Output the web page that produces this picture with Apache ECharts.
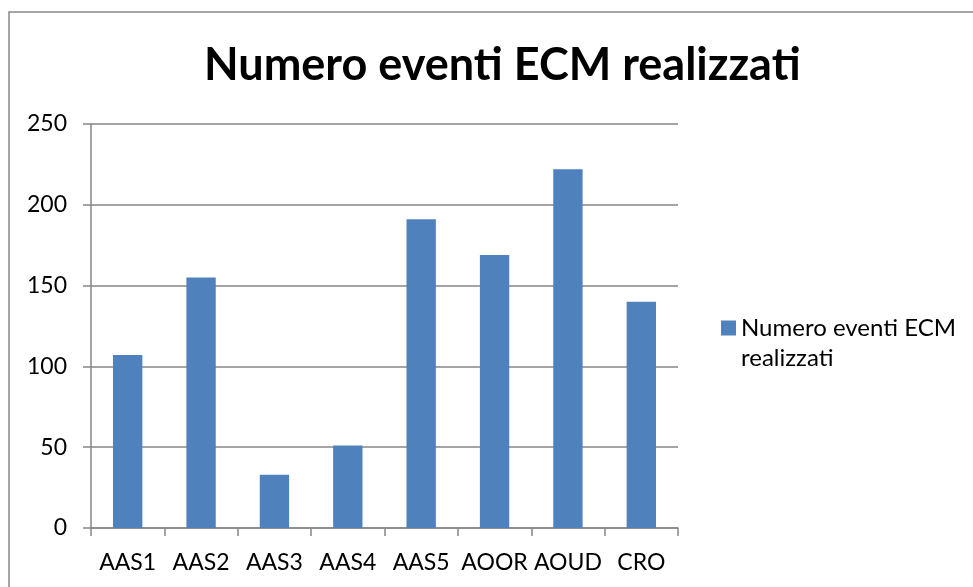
<!DOCTYPE html>
<html>
<head>
<meta charset="utf-8">
<script src="https://cdn.jsdelivr.net/npm/echarts@6/dist/echarts.min.js"></script>
<style>
  html, body { margin: 0; padding: 0; background: #fff; }
  #chart { width: 973px; height: 587px; }
</style>
</head>
<body>
<div id="chart"></div>
<script>
// dati
const categories = ['AAS1', 'AAS2', 'AAS3', 'AAS4', 'AAS5', 'AOOR', 'AOUD', 'CRO']
const eventi = [107, 155, 33, 51, 191, 169, 222, 140]
const seriesName = 'Numero eventi ECM realizzati'

const font = 'Lato, "Open Sans", sans-serif'
const chart = echarts.init(document.getElementById('chart'))

const option = {
  animation: false,
  backgroundColor: '#fff',
  title: {
    text: seriesName,
    left: 204,
    top: 43,
    padding: 0,
    textStyle: { fontFamily: font, fontSize: 45, fontWeight: 'bold', color: '#000' }
  },
  legend: {
    left: 721,
    top: 283,
    padding: 0,
    icon: 'rect',
    itemWidth: 15,
    itemHeight: 15,
    itemGap: 8,
    data: [seriesName],
    // prima riga vuota: così la prima riga di testo sta all'altezza del quadratino
    formatter: () => '\nNumero eventi ECM\nrealizzati',
    textStyle: {
      fontFamily: font,
      fontSize: 24,
      lineHeight: 30,
      color: '#000'
    }
  },
  grid: { left: 91, right: 295, top: 124, bottom: 59 },
  xAxis: {
    type: 'category',
    data: categories,
    axisLine: { lineStyle: { color: '#868686', width: 1.5 } },
    axisTick: { show: true, length: 8, lineStyle: { color: '#868686', width: 1.5 } },
    axisLabel: { interval: 0, fontFamily: font, fontSize: 23, color: '#000', margin: 23 }
  },
  yAxis: {
    type: 'value',
    min: 0,
    max: 250,
    interval: 50,
    axisLine: { show: true, lineStyle: { color: '#868686', width: 1.5 } },
    axisTick: { show: true, length: 8, lineStyle: { color: '#868686', width: 1.5 } },
    splitLine: { lineStyle: { color: '#868686', width: 1.5 } },
    axisLabel: { fontFamily: font, fontSize: 23, color: '#000', margin: 24 }
  },
  series: [
    {
      name: seriesName,
      type: 'bar',
      data: eventi,
      barWidth: '40%',
      itemStyle: { color: '#4F81BD' }
    }
  ],
  graphic: [
    {
      type: 'rect',
      shape: { x: 9, y: 12, width: 1000, height: 600 },
      style: { fill: 'none', stroke: '#888', lineWidth: 1.5 },
      z: -1
    }
  ]
}

chart.setOption(option)
</script>
</body>
</html>
